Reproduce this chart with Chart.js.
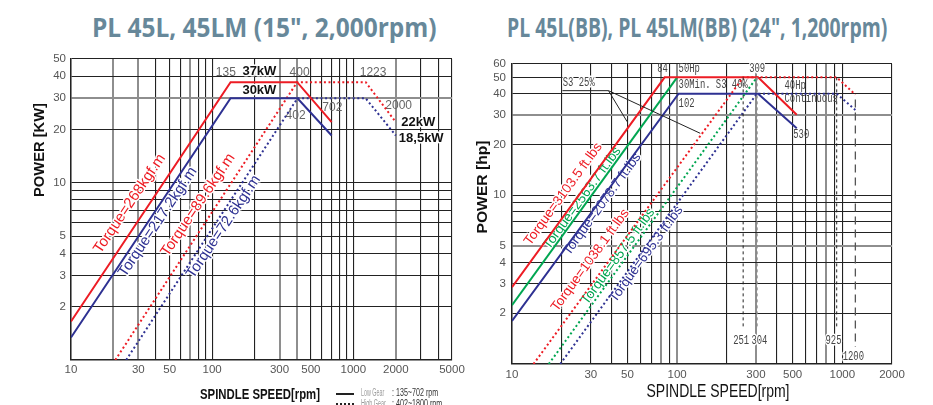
<!DOCTYPE html>
<html><head><meta charset="utf-8">
<script src="https://cdn.jsdelivr.net/npm/chart.js@4.4.1/dist/chart.umd.min.js"></script>
<style>
html,body{margin:0;padding:0;background:#fff}
body{width:933px;height:405px;overflow:hidden;position:relative;font-family:'Liberation Sans',Arial,sans-serif}
.title{position:absolute;top:13.5px;color:#67889a;font-family:'Open Sans',sans-serif;font-weight:700;font-size:26px;line-height:1;white-space:nowrap;transform-origin:0 0}
#c1{position:absolute;left:0;top:0}
#c2{position:absolute;left:470px;top:0}
.lg{position:absolute;white-space:nowrap;font-family:'Liberation Sans Narrow','Liberation Sans',sans-serif;line-height:1;transform-origin:0 0}
</style></head><body>
<div class="title fit" data-w="345" style="left:92px">PL 45L, 45LM (15", 2,000rpm)</div>
<div class="title fit" data-w="380" style="left:507px">PL 45L(BB), PL 45LM(BB) (24", 1,200rpm)</div>
<canvas id="c1" width="470" height="405"></canvas>
<canvas id="c2" width="463" height="405"></canvas>
<div style="position:absolute;left:336px;top:393px;width:18px;border-top:2px solid #222"></div>
<div class="lg fit" data-w="23" style="left:361px;top:388px;font-size:10px;color:#9a9a9a">Low Gear</div>
<div class="lg fit" data-w="46" style="left:392px;top:387px;font-size:11px;color:#333">: 135~702 rpm</div>
<div style="position:absolute;left:336px;top:403px;width:18px;border-top:2px dotted #222"></div>
<div class="lg fit" data-w="25" style="left:361px;top:399px;font-size:10px;color:#9a9a9a">High Gear</div>
<div class="lg fit" data-w="50" style="left:392px;top:398px;font-size:11px;color:#333">: 402~1800 rpm</div>
<script>
// ---------- LEFT CHART DATA: PL 45L, 45LM (15", 2,000rpm) ----------
const leftLowRedSpeed   = [10, 135, 400, 702];
const leftLowRedPower   = [1.65, 37, 37, 22];
const leftLowBlueSpeed  = [10, 135, 402, 702];
const leftLowBluePower  = [1.34, 30, 30, 18.5];
const leftHighRedSpeed  = [20.6, 400, 1223, 2000];
const leftHighRedPower  = [1, 37, 37, 22];
const leftHighBlueSpeed = [24.6, 402, 1223, 2000];
const leftHighBluePower = [1, 30, 30, 18.5];
const leftXGrid   = [10,20,30,40,50,60,70,80,90,100,200,300,400,500,600,700,800,900,1000,2000,3000,4000,5000];
const leftXLabels = [10,30,50,100,300,500,1000,2000,5000];
const leftYGrid   = [1,2,3,4,5,6,7,8,9,10,20,30,40,50];
const leftYLabels = [2,3,4,5,10,20,30,40,50];

// ---------- RIGHT CHART DATA: PL 45L(BB), PL 45LM(BB) (24", 1,200rpm) ----------
const rightS3RedSpeed    = [10, 84, 309, 530];
const rightS3RedPower    = [2.85, 50, 50, 30];
const rightS340GreenSpeed= [10, 100];
const rightS340GreenPower= [2.23, 50];
const rightContBlueSpeed = [10, 102, 309, 530];
const rightContBluePower = [1.8, 40, 40, 25];
const rightHighRedSpeed  = [13.5, 251, 925, 1200];
const rightHighRedPower  = [1, 50, 50, 39.5];
const rightHighGreenSpeed= [16.7, 304];
const rightHighGreenPower= [1, 50];
const rightHighBlueSpeed = [19.6, 304, 925, 1200];
const rightHighBluePower = [1, 40, 40, 32];
const rightMarkSpeed  = [251, 304, 925, 1200];
const rightMarkTop    = [50, 50, 50, 37];
const rightMarkBottom = [1.63, 1.63, 1.63, 1.26];
const rightLeaderASpeed = [20.2, 38.4, 49.8];
const rightLeaderAPower = [41.7, 41.7, 27.3];
const rightLeaderBSpeed = [38.4, 138];
const rightLeaderBPower = [41.7, 23.3];
const rightXGrid   = [10,20,30,40,50,60,70,80,90,100,200,300,400,500,600,700,800,900,1000,2000];
const rightXLabels = [10,30,50,100,300,500,1000,2000];
const rightYGrid   = [1,2,3,4,5,6,7,8,9,10,20,30,40,50,60];
const rightYLabels = [2,3,4,5,10,20,30,40,50,60];

const RED='#ed1c24', BLUE='#2e3192', GREEN='#00a651';
const NARROW="'Liberation Sans Narrow','Liberation Sans',Arial,sans-serif";
const SANS="'Liberation Sans',Arial,sans-serif";
const MONO="'Liberation Mono','DejaVu Sans Mono',monospace";

function pts(xs, ys){ return xs.map((x,i)=>({x:x, y:ys[i]})); }
function lineDS(xs, ys, color, style, width){
  const dash = style==='dot' ? [2,2.6] : style==='dash' ? [3,3] : style==='long' ? [8,5] : [];
  return {data:pts(xs,ys), borderColor:color, borderWidth:width||2, borderDash:dash,
    showLine:true, pointRadius:0, pointHoverRadius:0, tension:0, fill:false};
}
function vline(i, color, style, width){
  return lineDS([rightMarkSpeed[i], rightMarkSpeed[i]], [rightMarkTop[i], rightMarkBottom[i]], color, style, width);
}
function logAxis(isX, min, max, grid, labels, fix, pad, gray){
  return {
    type:'logarithmic', min:min, max:max, position: isX?'bottom':'left',
    afterBuildTicks: s => { s.ticks = grid.map(v=>({value:v})); },
    afterFit: s => { if(isX) s.height = fix; else s.width = fix; },
    ticks:{autoSkip:false, maxRotation:0, minRotation:0, padding:pad, color:'#555',
      font:{family:NARROW, size:11.5},
      callback: v => labels.indexOf(v) >= 0 ? String(v) : ''},
    grid:{drawTicks:false,
      color: c => (c.tick && gray.indexOf(c.tick.value)>=0) ? '#8e8e8e' : '#222',
      lineWidth: c => (c.tick && gray.indexOf(c.tick.value)>=0) ? 2 : 1.1},
    border:{display:true, color:'#222', width:1.5}
  };
}
const textPlugin = {
  id:'texts',
  beforeDatasetsDraw(chart, args, opts){ drawItems(chart, opts.under||[]); },
  afterDatasetsDraw(chart, args, opts){ drawItems(chart, opts.over||[]); }
};
function drawItems(chart, items){
  const ctx = chart.ctx, xs = chart.scales.x, ys = chart.scales.y;
  items.forEach(t=>{
    const px = t.abs ? t.x : xs.getPixelForValue(t.x);
    const py = t.abs ? t.y : ys.getPixelForValue(t.y);
    ctx.save();
    ctx.translate(px, py);
    if (t.rot) ctx.rotate(t.rot*Math.PI/180);
    ctx.font = t.font; ctx.fillStyle = t.color || '#333';
    ctx.textAlign = t.align || 'center'; ctx.textBaseline = t.base || 'middle';
    let sx = t.sx || 1;
    if (t.w) sx = t.w / ctx.measureText(t.text).width;
    ctx.scale(sx, 1);
    if (t.halo){ ctx.strokeStyle='#fff'; ctx.lineWidth=t.halo; ctx.lineJoin='round'; ctx.strokeText(t.text,0,0); }
    ctx.fillText(t.text, 0, 0);
    ctx.restore();
  });
}
function baseOptions(pad, xAxis, yAxis, texts){
  return {responsive:false, animation:false, events:[],
    layout:{padding:pad},
    plugins:{legend:{display:false}, tooltip:{enabled:false}, title:{display:false}, texts:texts},
    scales:{x:xAxis, y:yAxis}};
}

// ---------- LEFT ----------
const numL = {font:"12px "+NARROW, color:'#666'};
const kwL  = {font:"bold 13px "+NARROW, color:'#111'};
const torL = {font:"15px "+SANS, rot:-56, align:'left', base:'alphabetic', halo:3};
new Chart(document.getElementById('c1'), {
  type:'scatter',
  data:{datasets:[
    lineDS(leftLowRedSpeed, leftLowRedPower, RED, 'solid'),
    lineDS(leftLowBlueSpeed, leftLowBluePower, BLUE, 'solid'),
    lineDS(leftHighRedSpeed, leftHighRedPower, RED, 'dot'),
    lineDS(leftHighBlueSpeed, leftHighBluePower, BLUE, 'dot')
  ]},
  options: baseOptions({left:0, top:59, right:18, bottom:0},
    logAxis(true, 10, 5000, leftXGrid, leftXLabels, 45, 3, [20,30,70,300,400,2000]),
    logAxis(false, 1, 50, leftYGrid, leftYLabels, 71, 5, [30]),
    {under:[
      Object.assign({x:16.2, y:3.95, text:'Torque=268kgf.m', color:RED}, torL),
      Object.assign({x:24.2, y:2.91, text:'Torque=217.2kgf.m', color:BLUE}, torL),
      Object.assign({x:48.5, y:3.8, text:'Torque=89.6kgf.m', color:RED}, torL),
      Object.assign({x:73.6, y:2.86, text:'Torque=72.6kgf.m', color:BLUE}, torL),
      Object.assign({x:125, y:42.1, text:'135'}, numL),
      Object.assign({x:416, y:42, text:'400'}, numL),
      Object.assign({x:1380, y:42, text:'1223'}, numL),
      Object.assign({x:390, y:23.8, text:'402'}, numL),
      Object.assign({x:710, y:26.6, text:'702'}, numL),
      Object.assign({x:2094, y:27.4, text:'2000'}, numL),
      Object.assign({x:216, y:42.5, text:'37kW', halo:3}, kwL),
      Object.assign({x:216, y:33.1, text:'30kW', halo:3}, kwL),
      Object.assign({x:2884, y:22, text:'22kW', halo:3}, kwL),
      Object.assign({x:3027, y:17.9, text:'18,5kW', halo:3}, kwL),
      {abs:true, x:40, y:150, rot:-90, text:'POWER [KW]', font:"bold 14px "+SANS, color:'#111', w:94},
      {abs:true, x:260, y:395, text:'SPINDLE SPEED[rpm]', font:"bold 15px "+NARROW, color:'#111', w:120}
    ]}),
  plugins:[textPlugin]
});

// ---------- RIGHT ----------
const monoR = {font:"12px "+MONO, color:'#444', sx:0.74};
const torR  = {font:"13.5px "+SANS, rot:-54, align:'left', base:'alphabetic', halo:3};
new Chart(document.getElementById('c2'), {
  type:'scatter',
  data:{datasets:[
    vline(0, '#222', 'dash', 1),
    vline(1, '#888', 'dash', 1.6),
    vline(2, '#222', 'dash', 1),
    vline(3, '#555', 'long', 1.3),
    lineDS(rightLeaderASpeed, rightLeaderAPower, '#222', 'solid', 1),
    lineDS(rightLeaderBSpeed, rightLeaderBPower, '#222', 'solid', 1),
    lineDS(rightHighRedSpeed, rightHighRedPower, RED, 'dot'),
    lineDS(rightHighGreenSpeed, rightHighGreenPower, GREEN, 'dot'),
    lineDS(rightHighBlueSpeed, rightHighBluePower, BLUE, 'dot'),
    lineDS(rightS3RedSpeed, rightS3RedPower, RED, 'solid'),
    lineDS(rightS340GreenSpeed, rightS340GreenPower, GREEN, 'solid'),
    lineDS(rightContBlueSpeed, rightContBluePower, BLUE, 'solid')
  ]},
  options: baseOptions({left:0, top:64, right:41, bottom:0},
    logAxis(true, 10, 2000, rightXGrid, rightXLabels, 41, 4, [80,100,300,800]),
    logAxis(false, 1, 60, rightYGrid, rightYLabels, 42, 6, [30,5]),
    {under:[
      Object.assign({x:12.9, y:5.01, text:'Torque=3103.5 ft.lbs', color:RED}, torR),
      Object.assign({x:16.8, y:4.74, text:'Torque=2563.7 ft.lbs', color:GREEN}, torR),
      Object.assign({x:22.2, y:4.37, text:'Torque=2078.7 ft.lbs', color:BLUE}, torR),
      Object.assign({x:18.8, y:2.03, text:'Torque=1038.1 ft.lbs', color:RED}, torR),
      Object.assign({x:28.6, y:2.23, text:'Torque=857.5 ft.lbs', color:GREEN}, torR),
      Object.assign({x:42.3, y:2.30, text:'Torque=695.3 ft.lbs', color:BLUE}, torR),
      Object.assign({x:81.5, y:56.1, text:'84'}, monoR),
      Object.assign({x:102, y:56, text:'50Hp', align:'left'}, monoR),
      Object.assign({x:305, y:56, text:'309', halo:3}, monoR),
      Object.assign({x:102, y:45.3, text:'30Min. S3 40%', align:'left'}, monoR),
      Object.assign({x:102, y:35, text:'102', align:'left'}, monoR),
      Object.assign({x:447, y:44.6, text:'40Hp', align:'left'}, monoR),
      Object.assign({x:447, y:37.2, text:'Continuous', align:'left'}, monoR),
      Object.assign({x:505, y:22.9, text:'530', align:'left'}, monoR),
      Object.assign({x:20.3, y:46.1, text:'S3 25%', align:'left', halo:3}, monoR),
      Object.assign({x:244, y:1.38, text:'251', halo:3}, monoR),
      Object.assign({x:315, y:1.38, text:'304', halo:3}, monoR),
      Object.assign({x:885, y:1.38, text:'925', halo:3}, monoR),
      Object.assign({x:1166, y:1.11, text:'1200', halo:3}, monoR),
      {abs:true, x:12.5, y:187, rot:-90, text:'POWER [hp]', font:"bold 15px "+SANS, color:'#111', w:93},
      {abs:true, x:248, y:392, text:'SPINDLE SPEED[rpm]', font:"18px "+NARROW, color:'#111', w:143}
    ]}),
  plugins:[textPlugin]
});

function fitTexts(){
  document.querySelectorAll('.fit').forEach(el=>{
    el.style.transform='none';
    el.style.transform='scaleX('+(parseFloat(el.dataset.w)/el.offsetWidth)+')';
  });
}
fitTexts();
if (document.fonts && document.fonts.ready) document.fonts.ready.then(fitTexts);
</script>
</body></html>
